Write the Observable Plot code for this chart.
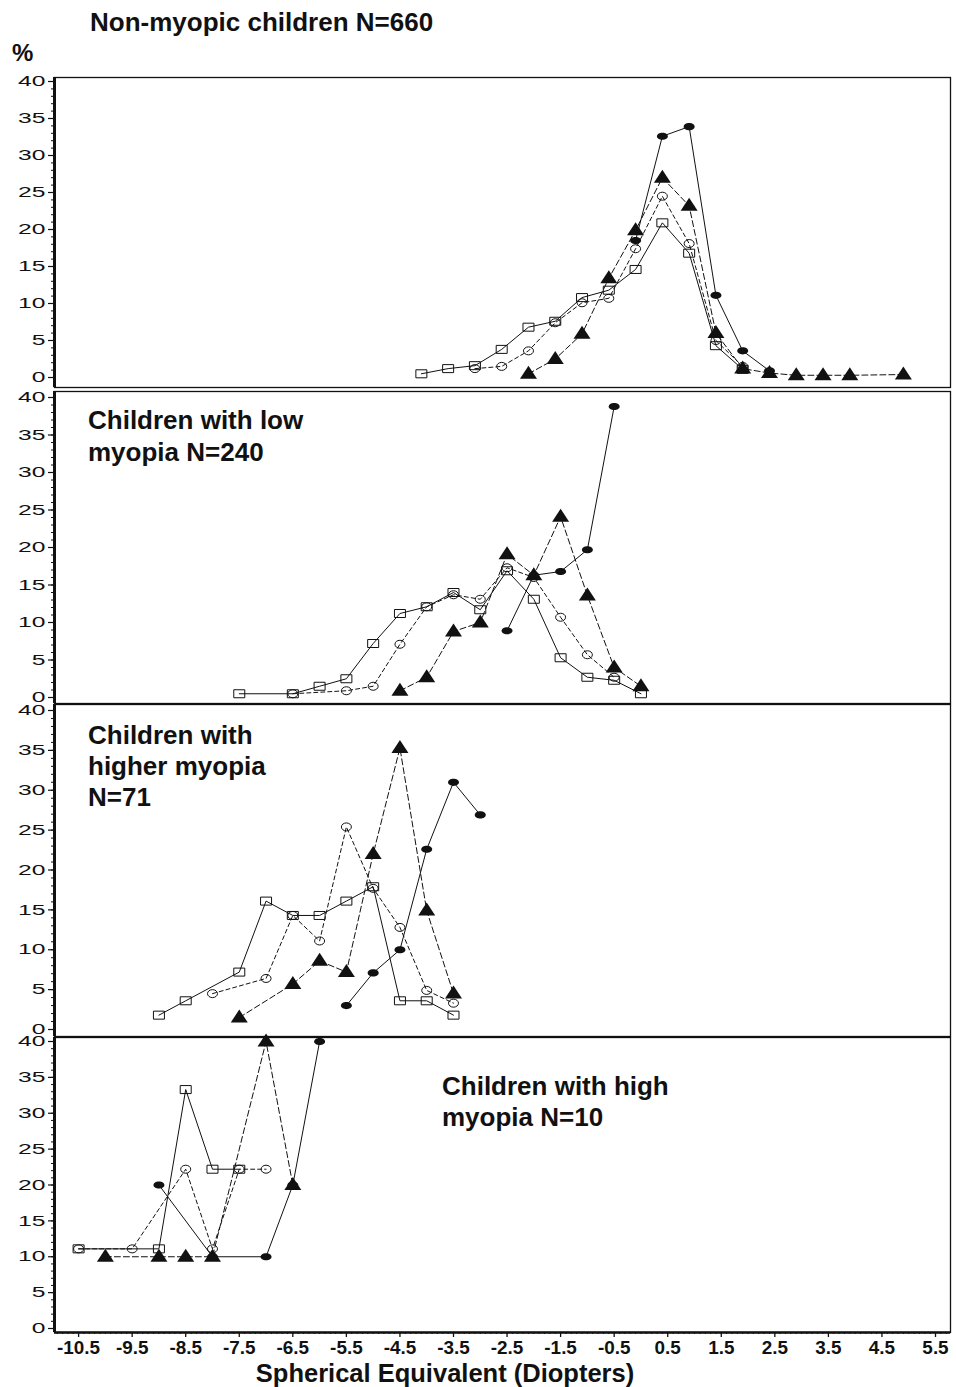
<!DOCTYPE html>
<html>
<head>
<meta charset="utf-8">
<script src="https://cdn.jsdelivr.net/npm/d3@7"></script>
<script src="https://cdn.jsdelivr.net/npm/@observablehq/plot@0.6"></script>
<style>
  html, body { margin: 0; padding: 0; background: #fff; }
  #page { position: relative; width: 956px; height: 1387px; overflow: hidden; background: #fff;
          font-family: "Liberation Sans", Arial, sans-serif; color: #111; }
  .lbl { position: absolute; font-weight: bold; white-space: nowrap; color: #111; }
  #page svg { position: absolute; left: 0; overflow: visible; }
</style>
</head>
<body>
<div id="page"></div>
<script>
// ---------- tick labels ----------
const xTicks = [-10.5, -9.5, -8.5, -7.5, -6.5, -5.5, -4.5, -3.5, -2.5, -1.5, -0.5, 0.5, 1.5, 2.5, 3.5, 4.5, 5.5];
const yTicks = [0, 5, 10, 15, 20, 25, 30, 35, 40];

// ---------- texts ----------
const chartTitle = "Non-myopic children N=660";
const yUnit = "%";
const xTitle = "Spherical Equivalent (Diopters)";
const panel2Label = ["Children with low", "myopia N=240"];
const panel3Label = ["Children with", "higher myopia", "N=71"];
const panel4Label = ["Children with high", "myopia N=10"];

// ---------- panel 1 : non-myopic (N=660) ----------
const p1SquareX   = [-4.1, -3.6, -3.1, -2.6, -2.1, -1.6, -1.1, -0.6, -0.1, 0.4, 0.9, 1.4, 1.9];
const p1SquareY   = [0.5, 1.2, 1.6, 3.8, 6.8, 7.6, 10.8, 11.8, 14.6, 20.9, 16.8, 4.3, 1.1];
const p1CircleX   = [-3.1, -2.6, -2.1, -1.6, -1.1, -0.6, -0.1, 0.4, 0.9, 1.4, 1.9];
const p1CircleY   = [1.2, 1.5, 3.6, 7.4, 10.1, 10.7, 17.4, 24.5, 18.1, 5.0, 1.5];
const p1TriangleX = [-2.1, -1.6, -1.1, -0.6, -0.1, 0.4, 0.9, 1.4, 1.9, 2.4, 2.9, 3.4, 3.9, 4.9];
const p1TriangleY = [0.5, 2.5, 5.9, 13.4, 19.9, 27.0, 23.2, 6.0, 1.2, 0.6, 0.3, 0.3, 0.3, 0.4];
const p1DotX      = [-0.1, 0.4, 0.9, 1.4, 1.9, 2.4];
const p1DotY      = [18.5, 32.6, 33.9, 11.1, 3.6, 0.9];

// ---------- panel 2 : low myopia (N=240) ----------
const p2SquareX   = [-7.5, -6.5, -6.0, -5.5, -5.0, -4.5, -4.0, -3.5, -3.0, -2.5, -2.0, -1.5, -1.0, -0.5, 0.0];
const p2SquareY   = [0.5, 0.5, 1.5, 2.5, 7.2, 11.2, 12.1, 14.0, 11.7, 16.9, 13.1, 5.3, 2.7, 2.3, 0.5];
const p2CircleX   = [-6.5, -5.5, -5.0, -4.5, -4.0, -3.5, -3.0, -2.5, -2.0, -1.5, -1.0, -0.5];
const p2CircleY   = [0.5, 0.9, 1.5, 7.1, 12.1, 13.7, 13.1, 17.3, 16.0, 10.7, 5.7, 2.7];
const p2TriangleX = [-4.5, -4.0, -3.5, -3.0, -2.5, -2.0, -1.5, -1.0, -0.5, 0.0];
const p2TriangleY = [0.9, 2.7, 8.8, 10.0, 19.1, 16.3, 24.1, 13.6, 4.0, 1.5];
const p2DotX      = [-2.5, -2.0, -1.5, -1.0, -0.5];
const p2DotY      = [8.9, 16.3, 16.8, 19.7, 38.8];

// ---------- panel 3 : higher myopia (N=71) ----------
const p3SquareX   = [-9.0, -8.5, -7.5, -7.0, -6.5, -6.0, -5.5, -5.0, -4.5, -4.0, -3.5];
const p3SquareY   = [1.8, 3.6, 7.2, 16.1, 14.3, 14.3, 16.1, 17.9, 3.6, 3.6, 1.8];
const p3CircleX   = [-8.0, -7.0, -6.5, -6.0, -5.5, -5.0, -4.5, -4.0, -3.5];
const p3CircleY   = [4.5, 6.4, 14.3, 11.1, 25.4, 17.7, 12.8, 4.9, 3.3];
const p3TriangleX = [-7.5, -6.5, -6.0, -5.5, -5.0, -4.5, -4.0, -3.5];
const p3TriangleY = [1.5, 5.7, 8.6, 7.2, 22.0, 35.3, 14.9, 4.5];
const p3DotX      = [-5.5, -5.0, -4.5, -4.0, -3.5, -3.0];
const p3DotY      = [3.0, 7.1, 10.0, 22.6, 31.0, 26.9];

// ---------- panel 4 : high myopia (N=10) ----------
const p4SquareX   = [-10.5, -9.0, -8.5, -8.0, -7.5];
const p4SquareY   = [11.1, 11.1, 33.3, 22.2, 22.2];
const p4CircleX   = [-10.5, -9.5, -8.5, -8.0, -7.5, -7.0];
const p4CircleY   = [11.1, 11.1, 22.2, 11.1, 22.2, 22.2];
const p4TriangleX = [-10.0, -9.0, -8.5, -8.0, -7.0, -6.5];
const p4TriangleY = [10, 10, 10, 10, 40, 20];
const p4DotX      = [-9.0, -8.0, -7.0, -6.5, -6.0];
const p4DotY      = [20, 10, 10, 20, 40];

// ---------- marker shapes ----------
const ellipseSymbol = (rx, ry) => ({
  draw(ctx) {
    const k = 0.5523;
    ctx.moveTo(rx, 0);
    ctx.bezierCurveTo(rx, ry * k, rx * k, ry, 0, ry);
    ctx.bezierCurveTo(-rx * k, ry, -rx, ry * k, -rx, 0);
    ctx.bezierCurveTo(-rx, -ry * k, -rx * k, -ry, 0, -ry);
    ctx.bezierCurveTo(rx * k, -ry, rx, -ry * k, rx, 0);
    ctx.closePath();
  }
});
const boxSymbol = (w, h) => ({
  draw(ctx) {
    ctx.moveTo(-w / 2, -h / 2); ctx.lineTo(w / 2, -h / 2); ctx.lineTo(w / 2, h / 2);
    ctx.lineTo(-w / 2, h / 2); ctx.closePath();
  }
});
const triSymbol = (w, h) => ({
  draw(ctx) {
    ctx.moveTo(0, -h * 0.62); ctx.lineTo(w / 2, h * 0.38); ctx.lineTo(-w / 2, h * 0.38); ctx.closePath();
  }
});

const INK = "#111";
const seriesStyle = {
  square:   {symbol: boxSymbol(11, 8),        fill: "none", stroke: INK,    dash: null},
  circle:   {symbol: ellipseSymbol(5, 4),     fill: "none", stroke: INK,    dash: "4,3"},
  triangle: {symbol: triSymbol(17, 13),       fill: INK,    stroke: "none", dash: "6,3"},
  dot:      {symbol: ellipseSymbol(5.5, 3.6), fill: INK,    stroke: "none", dash: null}
};

const pts = (xs, ys) => xs.map((x, i) => ({x, y: ys[i]}));

const FONT = "'Liberation Sans', Arial, sans-serif";
const xDomain = [-10.95, 5.78];
const page = document.getElementById("page");

// widen tick label glyphs horizontally (the original uses an extended face)
function stretch(svg, selector, sx) {
  svg.querySelectorAll(selector).forEach(t => {
    const tr = t.getAttribute("transform") || "";
    t.setAttribute("transform", tr + ` scale(${sx},1)`);
  });
}

function panel(cfg) {
  const {top, bottom, y40, y0, series, xAxis} = cfg;
  const h = bottom - top;
  const k = (y0 - y40) / 40;
  const yHi = 40 + (y40 - top) / k;
  const yLo = -(bottom - y0) / k;
  const extra = xAxis ? 32 : 0;
  const marks = [
    Plot.frame({stroke: INK, strokeWidth: 1.3}),
    Plot.axisY({ticks: d3.range(0, 41, 1), tickSize: 3, tickFormat: () => "", stroke: INK}),
    Plot.axisY({ticks: yTicks, tickSize: 6, tickPadding: 3, fontSize: 14.5, fill: INK, stroke: INK, strokeWidth: 1.2}),
    Plot.ruleX([xDomain[0]], {stroke: INK, strokeWidth: 3})
  ];
  if (xAxis) {
    marks.push(
      Plot.axisX({ticks: d3.range(-10.9, 5.75, 0.1), tickSize: 2, tickFormat: () => "", stroke: INK}),
      Plot.axisX({ticks: xTicks, tickSize: 5, tickPadding: 4, tickFormat: d => d.toFixed(1),
                  fontSize: 17.5, fontWeight: "bold", fill: INK, stroke: INK, strokeWidth: 1.3}),
      Plot.ruleY([yLo], {stroke: INK, strokeWidth: 2.5})
    );
  }
  for (const [name, xs, ys] of series) {
    const s = seriesStyle[name];
    marks.push(Plot.line(pts(xs, ys), {x: "x", y: "y", stroke: INK, strokeWidth: 1,
      strokeDasharray: s.dash || undefined}));
  }
  for (const [name, xs, ys] of series) {
    const s = seriesStyle[name];
    marks.push(Plot.dot(pts(xs, ys), {x: "x", y: "y", symbol: s.symbol, r: 5,
      fill: s.fill, stroke: s.stroke, strokeWidth: 1}));
  }
  const xOpts = {domain: xDomain, label: null};
  if (!xAxis) xOpts.axis = null;
  const svg = Plot.plot({
    width: 956, height: h + extra,
    marginLeft: 54, marginRight: 6, marginTop: 0, marginBottom: extra,
    x: xOpts,
    y: {domain: [yLo, yHi], label: null},
    style: {fontFamily: FONT, background: "transparent", color: INK, overflow: "visible"},
    marks
  });
  svg.style.top = top + "px";
  stretch(svg, 'g[aria-label="y-axis tick label"] text', 1.7);
  if (xAxis) stretch(svg, 'g[aria-label="x-axis tick label"] text', 1.08);
  page.appendChild(svg);
}

panel({top: 77, bottom: 387, y40: 81, y0: 377, series: [
  ["square", p1SquareX, p1SquareY], ["circle", p1CircleX, p1CircleY],
  ["triangle", p1TriangleX, p1TriangleY], ["dot", p1DotX, p1DotY]]});
panel({top: 391, bottom: 703, y40: 397, y0: 697, series: [
  ["square", p2SquareX, p2SquareY], ["circle", p2CircleX, p2CircleY],
  ["triangle", p2TriangleX, p2TriangleY], ["dot", p2DotX, p2DotY]]});
panel({top: 704, bottom: 1036, y40: 710, y0: 1029, series: [
  ["square", p3SquareX, p3SquareY], ["circle", p3CircleX, p3CircleY],
  ["triangle", p3TriangleX, p3TriangleY], ["dot", p3DotX, p3DotY]]});
panel({top: 1037, bottom: 1332, y40: 1041, y0: 1328, xAxis: true, series: [
  ["square", p4SquareX, p4SquareY], ["circle", p4CircleX, p4CircleY],
  ["triangle", p4TriangleX, p4TriangleY], ["dot", p4DotX, p4DotY]]});

// ---------- HTML texts ----------
function label(lines, left, centerY, size, lineH, align) {
  const d = document.createElement("div");
  d.className = "lbl";
  d.style.fontSize = size + "px";
  d.style.lineHeight = lineH + "px";
  d.style.top = (centerY - 0.49 * size - (lineH - size) / 2) + "px";
  if (align === "center") {
    d.style.left = (left - 400) + "px"; d.style.width = "800px"; d.style.textAlign = "center";
  } else {
    d.style.left = left + "px";
  }
  d.innerHTML = lines.map(s => s.replace(/&/g, "&amp;").replace(/</g, "&lt;")).join("<br>");
  page.appendChild(d);
}
label([chartTitle], 90, 22, 26, 26);
label([yUnit], 12, 53, 24, 24);
label(panel2Label, 88, 420, 26, 32);
label(panel3Label, 88, 735, 26, 31);
label(panel4Label, 442, 1086, 26, 31);
label([xTitle], 445, 1373, 25.5, 22, "center");
</script>
</body>
</html>
